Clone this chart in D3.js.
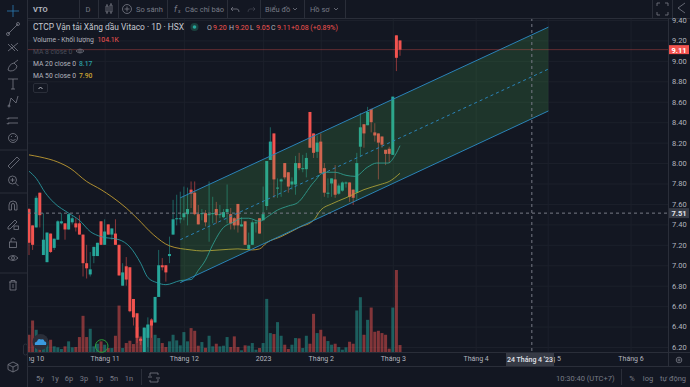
<!DOCTYPE html>
<html>
<head>
<meta charset="utf-8">
<script src="https://cdnjs.cloudflare.com/ajax/libs/d3/7.8.5/d3.min.js"></script>
<style>
  html, body { margin: 0; padding: 0; background: #131722; overflow: hidden; }
  svg { display: block; }
  text { font-family: Roboto, "Noto Sans", sans-serif; }
</style>
</head>
<body>
<svg id="chart" width="690" height="387"></svg>
<script>
// candles (one trading day per entry)
var opens = [7.55,7.39,7.37,7.71,7.10,7.03,7.31,7.17,7.25,7.41,
  7.41,7.35,7.42,7.41,7.41,7.30,7.02,6.91,7.09,7.09,
  7.43,7.20,7.40,7.30,7.31,7.20,6.80,6.99,6.98,6.67,
  6.53,6.28,6.14,6.29,6.46,6.44,6.69,7.00,7.00,7.09,
  7.30,7.45,7.45,7.47,7.50,7.74,7.71,7.50,7.50,7.51,
  7.49,7.50,7.55,7.49,7.47,7.52,7.50,7.46,7.60,7.38,
  7.43,7.16,7.20,7.41,7.46,7.44,7.58,8.03,8.29,7.75,
  7.82,8.00,7.91,7.79,7.79,8.00,7.94,7.94,8.50,8.29,
  8.11,8.21,7.95,7.70,7.80,7.84,7.70,7.73,7.80,7.81,
  7.74,7.71,8.16,8.38,8.37,8.53,8.30,8.29,8.26,8.13,
  8.14,8.08,9.25,9.20];
var highs = [7.56,7.39,7.68,7.71,7.51,7.32,7.31,7.26,7.44,7.51,
  7.41,7.50,7.48,7.46,7.49,7.30,7.20,7.13,7.18,7.22,
  7.43,7.45,7.40,7.36,7.45,7.20,7.02,7.08,6.98,6.67,
  6.53,6.29,6.39,6.49,6.48,6.69,7.15,7.07,7.00,7.28,
  7.64,7.69,7.72,7.77,7.76,7.82,7.82,7.59,7.55,7.54,
  7.82,7.67,7.62,7.59,7.55,7.79,7.56,7.47,7.60,7.47,
  7.43,7.32,7.44,7.44,7.46,7.77,8.02,8.35,8.29,7.85,
  7.85,8.00,7.91,7.86,8.07,8.10,8.08,8.10,8.50,8.29,
  8.27,8.29,8.00,7.85,7.85,7.98,7.80,7.82,7.82,7.81,
  7.74,8.10,8.49,8.38,8.55,8.53,8.39,8.29,8.26,8.13,
  8.16,8.65,9.25,9.20];
var lows = [7.10,7.15,7.37,7.37,7.10,7.03,7.12,7.15,7.25,7.40,
  7.25,7.35,7.40,7.33,7.30,6.89,6.87,6.89,7.02,7.09,
  7.20,7.20,7.30,7.25,7.20,6.90,6.80,6.80,6.54,6.41,
  6.24,6.22,6.14,6.20,6.29,6.44,6.69,6.95,6.84,7.02,
  7.30,7.39,7.41,7.44,7.39,7.56,7.49,7.40,7.44,7.38,
  7.23,7.41,7.41,7.46,7.46,7.41,7.35,7.35,7.32,7.38,
  7.20,7.15,7.20,7.32,7.31,7.44,7.54,8.03,7.66,7.66,
  7.67,7.84,7.71,7.74,7.69,7.93,7.91,7.86,8.15,8.05,
  8.05,7.90,7.67,7.66,7.67,7.66,7.69,7.72,7.76,7.62,
  7.59,7.64,8.06,8.15,8.37,8.30,8.21,7.84,8.15,7.98,
  8.00,8.08,8.90,9.05];
var closes = [7.22,7.20,7.66,7.49,7.25,7.32,7.13,7.26,7.43,7.43,
  7.35,7.50,7.46,7.37,7.30,7.02,6.97,6.96,7.18,7.22,
  7.20,7.33,7.30,7.36,7.20,6.90,6.93,6.86,6.55,6.49,
  6.29,6.26,6.39,6.42,6.41,6.69,7.00,6.98,6.93,7.11,
  7.45,7.46,7.46,7.51,7.55,7.70,7.50,7.40,7.51,7.42,
  7.50,7.51,7.49,7.50,7.52,7.55,7.41,7.39,7.39,7.40,
  7.20,7.20,7.42,7.42,7.31,7.50,8.02,8.21,7.84,7.76,
  7.84,7.86,7.77,7.82,8.00,7.95,7.95,8.05,8.15,8.10,
  8.20,7.90,7.71,7.71,7.85,7.69,7.78,7.81,7.81,7.67,
  7.66,8.00,8.35,8.29,8.50,8.40,8.27,8.20,8.18,8.09,
  8.09,8.65,9.03,9.11];
// volume in thousands
var volumes = [238,424,303,195,87,152,173,87,74,52,
  87,152,74,78,208,485,208,316,87,121,
  152,108,65,65,225,619,65,130,160,117,
  338,216,325,368,442,238,195,130,78,152,
  238,165,100,273,152,325,290,95,143,69,
  225,87,121,87,95,208,78,217,78,35,
  100,95,130,43,65,130,706,260,247,403,
  225,108,52,108,195,191,65,225,121,511,
  260,303,217,156,108,121,78,43,74,147,
  121,555,728,238,433,593,277,290,260,238,
  56,593,1083,104];

var ma20Idx = [0,2,4.5,7,11,14,17,20,25,28,31,33,35.5,38,42,45,47,49,51,54,56.7,59,61,64,66,69,72,74.5,79,82,85,88,90.5,94,96.5,99.7,101.7,103];
var ma20 = [7.92,7.85,7.71,7.61,7.51,7.44,7.33,7.28,7.25,7.18,7.02,6.88,6.83,6.81,6.85,6.86,6.95,7.05,7.20,7.37,7.42,7.46,7.46,7.43,7.47,7.54,7.58,7.61,7.81,7.91,7.91,7.88,7.87,7.96,8.00,8.00,8.08,8.17];
var ma50Idx = [0,3,8,11.4,16,20,23,27,30,34.5,39,45,48,53,58,62,64,66,70,75,79,81,84,88,93,97.5,100,103];
var ma50 = [8.08,8.06,8.01,7.95,7.82,7.74,7.67,7.56,7.46,7.30,7.19,7.15,7.14,7.15,7.16,7.15,7.16,7.22,7.28,7.37,7.44,7.54,7.60,7.66,7.74,7.79,7.82,7.90];

// parallel channel anchors
var channelIdx = [42,144.2];
var channelUpper = [7.66,9.33];
var channelMid = [7.25,8.92];
var channelLower = [6.83,8.51];

var priceTicks = [9.4,9.2,9.0,8.8,8.6,8.4,8.2,8.0,7.8,7.6,7.4,7.2,7.0,6.8,6.6,6.4,6.2];
var monthIdx = [0,21,43,65,81,101,124,144,167];
var monthLabels = ["Tháng 10","Tháng 11","Tháng 12","2023","Tháng 2","Tháng 3","Tháng 4","Tháng 5","Tháng 6"];
var lastPrice = 9.11;
var crossPrice = 7.51;
var crossIdx = 139.6;
var rangeLabels = ["5y","1y","6p","3p","1p","5n","1n"];

var bg = "#131722", line = "#2a2e39", grid = "#1c202b";
var up = "#26a69a", down = "#f2534f", textC = "#b2b5be", dim = "#787b86";

var svg = d3.select("#chart");
var x = d3.scaleLinear().domain([0,103]).range([29,400]);
var y = d3.scaleLinear().domain([9.4,6.2]).range([20,347]);
var yVol = d3.scaleLinear().domain([0,1083]).range([353,270]);

svg.append("rect").attr("width",690).attr("height",387).attr("fill",bg);

var defs = svg.append("defs");
defs.append("clipPath").attr("id","plot").append("rect")
    .attr("x",28).attr("y",18).attr("width",640).attr("height",335);
defs.append("clipPath").attr("id","timeaxis").append("rect")
    .attr("x",29).attr("y",353).attr("width",639).attr("height",14);

// grid
var gy = svg.append("g").attr("class","grid").attr("transform","translate(28,0)")
    .call(d3.axisRight(y).tickValues(priceTicks).tickSize(640).tickFormat(""));
var gx = svg.append("g").attr("class","grid").attr("transform","translate(0,18)")
    .call(d3.axisBottom(x).tickValues(monthIdx.slice(1)).tickSize(335).tickFormat(""));
svg.selectAll(".grid .domain").remove();
svg.selectAll(".grid line").attr("stroke",grid).attr("stroke-width",1);

var days = d3.range(opens.length);
function colorOf(i) { return closes[i] >= opens[i] ? up : down; }

var plot = svg.append("g").attr("clip-path","url(#plot)");

// volume
plot.selectAll(".vol").data(days).enter().append("rect")
    .attr("class","vol")
    .attr("x", d => x(d) - 1.5)
    .attr("width", 3)
    .attr("y", d => yVol(volumes[d]))
    .attr("height", d => yVol(0) - yVol(volumes[d]))
    .attr("fill", colorOf)
    .attr("opacity", 0.5);

// wicks and bodies
plot.selectAll(".wick").data(days).enter().append("line")
    .attr("class","wick")
    .attr("x1", d => x(d)).attr("x2", d => x(d))
    .attr("y1", d => y(highs[d])).attr("y2", d => y(lows[d]))
    .attr("stroke", colorOf)
    .attr("stroke-width", 0.9)
    .attr("opacity", 0.6);
plot.selectAll(".body").data(days).enter().append("rect")
    .attr("class","body")
    .attr("x", d => x(d) - 1.5)
    .attr("width", 3)
    .attr("y", d => y(Math.max(opens[d],closes[d])))
    .attr("height", d => Math.max(1, Math.abs(y(opens[d]) - y(closes[d]))))
    .attr("fill", colorOf);

// moving averages
function maLine(idx, vals, color) {
  var l = d3.line().x(d => x(d[0])).y(d => y(d[1])).curve(d3.curveMonotoneX);
  plot.append("path").datum(d3.zip(idx, vals))
      .attr("d", l).attr("fill","none").attr("stroke",color).attr("stroke-width",1).attr("opacity",0.85);
}
maLine(ma50Idx, ma50, "#c9a233");
maLine(ma20Idx, ma20, "#2a9ea3");

// channel
var chArea = d3.area().x(d => x(d[0])).y0(d => y(d[1])).y1(d => y(d[2]));
plot.append("path").datum(d3.zip(channelIdx, channelUpper, channelLower))
    .attr("d", chArea).attr("fill","#4caf50").attr("opacity",0.2);
var chLine = d3.line().x(d => x(d[0])).y(d => y(d[1]));
plot.append("path").datum(d3.zip(channelIdx, channelUpper)).attr("d",chLine)
    .attr("stroke","#2a83b8").attr("stroke-width",1).attr("fill","none");
plot.append("path").datum(d3.zip(channelIdx, channelLower)).attr("d",chLine)
    .attr("stroke","#2a83b8").attr("stroke-width",1).attr("fill","none");
plot.append("path").datum(d3.zip(channelIdx, channelMid)).attr("d",chLine)
    .attr("stroke","#2a83b8").attr("stroke-width",1).attr("stroke-dasharray","3,3").attr("fill","none");

// last price line and crosshair
plot.append("line").attr("x1",28).attr("x2",668).attr("y1",y(lastPrice)).attr("y2",y(lastPrice))
    .attr("stroke",down).attr("stroke-opacity",0.35);
plot.append("line").attr("x1",28).attr("x2",668).attr("y1",y(crossPrice)).attr("y2",y(crossPrice))
    .attr("stroke",dim).attr("stroke-dasharray","3,3");
plot.append("line").attr("x1",x(crossIdx)).attr("x2",x(crossIdx)).attr("y1",18).attr("y2",353)
    .attr("stroke",dim).attr("stroke-dasharray","3,3");

// chrome lines
function hline(x1,x2,yy) { svg.append("line").attr("x1",x1).attr("x2",x2).attr("y1",yy).attr("y2",yy).attr("stroke",line); }
function vline(xx,y1,y2) { svg.append("line").attr("x1",xx).attr("x2",xx).attr("y1",y1).attr("y2",y2).attr("stroke",line); }
hline(27,690,18.5);
hline(27,690,352.5);
hline(27,690,366.5);
vline(27.5,0,387);
vline(668.5,18,367);

// axes
var yAxis = svg.append("g").attr("transform","translate(668,0)")
    .call(d3.axisRight(y).tickValues(priceTicks).tickSize(0).tickPadding(4).tickFormat(d3.format(".2f")));
yAxis.select(".domain").remove();
yAxis.selectAll("text").attr("fill",textC).style("font-size","7.5px").attr("font-family","Roboto");

var xWrap = svg.append("g").attr("clip-path","url(#timeaxis)");
var xAxis = xWrap.append("g").attr("transform","translate(0,353)")
    .call(d3.axisBottom(x).tickValues(monthIdx).tickSize(0).tickPadding(3).tickFormat((d,i) => monthLabels[i]));
xAxis.select(".domain").remove();
xAxis.selectAll("text").attr("fill",textC).style("font-size","7px").attr("font-family","Roboto");

function label(s,xx,yy,size,color,anchor,weight) {
  return svg.append("text").attr("x",xx).attr("y",yy).attr("fill",color).style("font-size",size+"px")
      .attr("text-anchor",anchor || "start").attr("font-weight",weight || 400).text(s);
}

// price and crosshair tags
svg.append("rect").attr("x",669).attr("y",y(lastPrice)-4.5).attr("width",20).attr("height",9).attr("fill",down);
label("9.11",679,y(lastPrice)+3,7.5,"#fff","middle",700);
svg.append("rect").attr("x",669).attr("y",y(crossPrice)-5).attr("width",20).attr("height",10).attr("fill","#363a45");
label("7.51",679,y(crossPrice)+3,7.5,"#e0e3eb","middle",700);
svg.append("rect").attr("x",506).attr("y",353).attr("width",48).attr("height",13).attr("fill","#363a45");
label("24 Tháng 4 '23",530,362,7,"#e0e3eb","middle",500);

// top toolbar
label("VTO",33,11.5,7.5,textC,"start",700);
label("D",88,11.5,7.5,dim,"middle");
label("So sánh",136,11.5,7.5,dim);
label("Các chỉ báo",185,11.5,7.5,dim);
label("Biểu đồ",265,11.5,7.5,dim);
label("Hồ sơ",310,11.5,7.5,dim);
[79,98,118,167,227,260,304,345,652,672].forEach(d => vline(d+0.5,0,18));

var tb = svg.append("g").attr("fill","none").attr("stroke",dim).attr("stroke-width",0.8);
tb.append("circle").attr("cx",127).attr("cy",9).attr("r",4.5);
tb.append("path").attr("d","M124.5 9h5M127 6.5v5");
tb.append("path").attr("d","M106 6h2v6h-2zM107 4v2M107 12v2M110 5h2v7h-2zM111 3v2M111 12v2");
tb.append("path").attr("d","M233 7l-2 2 2 2M231 9h6q2 0 2 3");
tb.append("path").attr("d","M253 7l2 2-2 2M255 9h-5q-2 0-2 3").attr("opacity",0.4);
tb.append("path").attr("d","M293 8l2 2 2-2M334 8l2 2 2-2");
tb.append("path").attr("d","M657 6v-3h3M665 3h3v3M657 12v3h3M668 12v3h-3");
tb.append("path").attr("d","M685 3l-7 5 7 5");
label("f",174,12,9,dim).style("font-style","italic");
label("x",178,13,5,dim);

// legend
label("CTCP Vận tải Xăng dầu Vitaco · 1D · HSX",33,30,8.4,"#c6c8d0");
svg.append("circle").attr("cx",194.5).attr("cy",27).attr("r",4).attr("fill","#1b3f3d");
svg.append("circle").attr("cx",194.5).attr("cy",27).attr("r",1.8).attr("fill",up);
var ohlc = [["O","9.20",207],["H","9.20",229],["L","9.05",250],["C","9.11",271]];
ohlc.forEach(d => {
  label(d[0],d[2],30,7,textC);
  label(d[1],d[2]+6,30,7,down);
});
label("+0.08 (+0.89%)",291,30,7,down);
label("Volume - Khối lượng",33,42,6.8,textC);
label("104.1K",97.5,42,6.8,down);
label("MA 8 close 0",33,54,6.8,"#4a4e5a");
label("MA 20 close 0",33,66,6.8,textC);
label("8.17",79,66,6.8,"#2a9ea3",null,500);
label("MA 50 close 0",33,78,6.8,textC);
label("7.90",79,78,6.8,"#c9a233",null,500);
var eye = svg.append("g").attr("fill","none").attr("stroke",dim).attr("stroke-width",0.7);
eye.append("path").attr("d","M76 51q4-4 8 0q-4 4-8 0z");
eye.append("circle").attr("cx",80).attr("cy",51).attr("r",1.3);
svg.append("rect").attr("x",33.5).attr("y",83.5).attr("width",14).attr("height",9).attr("rx",1.5)
    .attr("fill",bg).attr("stroke",line);
svg.append("path").attr("d","M38.5 89l2-2 2 2").attr("fill","none").attr("stroke",textC);

// left toolbar
hline(0,27,150);
hline(0,27,193);
hline(0,27,273);
var lt = svg.append("g").attr("fill","none").attr("stroke",dim).attr("stroke-width",0.8);
lt.append("path").attr("d","M7 11h12M13 5v12").attr("stroke","#2b7fb8");
lt.append("path").attr("d","M8 34l10-10M8 34m-1.5 0a1.5 1.5 0 1 0 3 0a1.5 1.5 0 1 0 -3 0M18 24m-1.5 0a1.5 1.5 0 1 0 3 0a1.5 1.5 0 1 0 -3 0");
lt.append("path").attr("d","M8 44l7 7M8 51l10-8M11 44l7 7");
lt.append("path").attr("d","M8 70q1-6 6-7l3 3q-1 5-7 5zM14 63l4-3");
lt.append("path").attr("d","M8 79h10M13 79v10M11 89h4");
lt.append("path").attr("d","M9 106l2-8 5 5 2-7M9 106m-1 0a1 1 0 1 0 2 0a1 1 0 1 0 -2 0");
lt.append("path").attr("d","M8 118h10M8 123h10M8 118m-1 0a1 1 0 1 0 2 0M8 123m-1 0a1 1 0 1 0 2 0");
lt.append("circle").attr("cx",13).attr("cy",138).attr("r",4.5);
lt.append("path").attr("d","M10.5 139.5q2.5 2 5 0M11 136.5h1M15 136.5h1");
lt.append("path").attr("d","M8 166l9-9 2.5 2.5-9 9z");
lt.append("circle").attr("cx",12.5).attr("cy",180).attr("r",4);
lt.append("path").attr("d","M15.5 183l3 3M10.5 180h4M12.5 178v4");
lt.append("path").attr("d","M9 210v-5a4 4 0 0 1 8 0v5h-2.5v-5a1.5 1.5 0 0 0-3 0v5z");
lt.append("path").attr("d","M8 227l7-7 2 2-7 7h-2z");
lt.append("rect").attr("x",14).attr("y",226).attr("width",4.5).attr("height",3.5);
lt.append("rect").attr("x",9.5).attr("y",242).attr("width",7).attr("height",5.5);
lt.append("path").attr("d","M11 242v-2a2 2 0 0 1 4 0");
lt.append("path").attr("d","M8 258q5-5 10 0q-5 5-10 0z");
lt.append("circle").attr("cx",13).attr("cy",258).attr("r",1.5);
lt.append("path").attr("d","M9 282h8M11 282v-1.5h4v1.5M10 282v8h6v-8M13 284v4");
// cube at the bottom of the toolbar
lt.append("path").attr("d","M13 362l5 2.5v5l-5 2.5-5-2.5v-5zM8 364.5l5 2.5 5-2.5M13 367v5");

// logo, flag marker and collapse handle
svg.append("circle").attr("cx",40.5).attr("cy",342).attr("r",8).attr("fill","#2a2e39");
svg.append("path").attr("d","M35 345q-1-3 2-3.5q1-3.5 4-2q3-1 3.5 2q2.5 0 1.5 3.500z")
    .attr("fill","#3a9be0");
svg.append("circle").attr("cx",101.7).attr("cy",346).attr("r",6.3)
    .attr("fill","none").attr("stroke","#2e9e3a").attr("stroke-width",1);
svg.append("rect").attr("x",23.5).attr("y",344).attr("width",4).attr("height",11).attr("rx",2)
    .attr("fill",bg).attr("stroke",line);

// bottom bar
var rangeX = [40,55,69,84,99,114,129];
rangeLabels.forEach((d,i) => label(d,rangeX[i],380.5,7.5,dim,"middle"));
vline(141.5,369,385);
vline(621.5,369,385);
var cal = svg.append("g").attr("fill","none").attr("stroke",dim).attr("stroke-width",0.8);
cal.append("path").attr("d","M150 376v-3h8v2M158 379v3h-8v-2M148 377h4M156 378h4");
label("10:30:40 (UTC+7)",556,380.5,7.5,dim);
label("%",632,380.5,7.5,dim,"middle");
label("log",648,380.5,7.5,dim,"middle");
label("tự động",660,380.5,7.5,dim);
cal.append("circle").attr("cx",679).attr("cy",360).attr("r",2.8);
cal.append("circle").attr("cx",679).attr("cy",360).attr("r",1);
</script>
</body>
</html>
